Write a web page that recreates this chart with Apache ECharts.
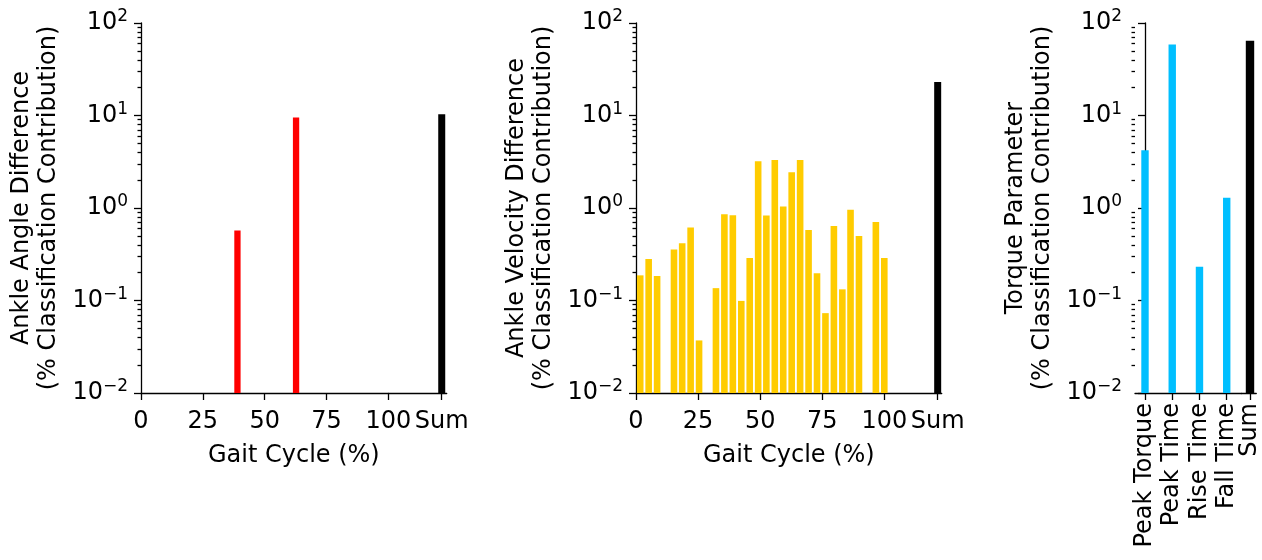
<!DOCTYPE html>
<html>
<head>
<meta charset="utf-8">
<script src="https://cdn.jsdelivr.net/npm/echarts@6/dist/echarts.min.js"></script>
<style>
html, body { margin: 0; padding: 0; background: #fff; }
#chart { width: 1262px; height: 560px; }
</style>
</head>
<body>
<div id="chart"></div>
<script>
// gait cycle bin centres (%)
var gaitBins = [1.7, 5.1, 8.5, 11.9, 15.3, 18.6, 22.0, 25.4, 28.8, 32.2,
                35.6, 39.0, 42.4, 45.8, 49.2, 52.5, 55.9, 59.3, 62.7, 66.1,
                69.5, 72.9, 76.3, 79.7, 83.1, 86.4, 89.8, 93.2, 96.6, 100.0];
var angleValues = [null, null, null, null, null, null, null, null, null, null,
                   null, 0.57, null, null, null, null, null, null, 9.5, null,
                   null, null, null, null, null, null, null, null, null, null];
var velocityValues = [0.187, 0.281, 0.184, null, 0.355, 0.415, 0.614, 0.037, null, 0.136,
                      0.855, 0.834, 0.099, 0.288, 3.2, 0.828, 3.3, 1.04, 2.43, 3.3,
                      0.578, 0.197, 0.073, 0.639, 0.132, 0.96, 0.498, null, 0.706, 0.288];
var torqueNames = ['Peak Torque', 'Peak Time', 'Rise Time', 'Fall Time'];
var torqueValues = [4.2, 58.7, 0.232, 1.29];
var sumValues = [10.3, 23.0, 64.4];
var gaitTicks = [0, 25, 50, 75, 100];
var decadeTicks = [0.01, 0.1, 1, 10, 100];
var minorTicks = [0.02, 0.03, 0.04, 0.05, 0.06, 0.07, 0.08, 0.09,
                  0.2, 0.3, 0.4, 0.5, 0.6, 0.7, 0.8, 0.9,
                  2, 3, 4, 5, 6, 7, 8, 9,
                  20, 30, 40, 50, 60, 70, 80, 90];

var FONT = 'DejaVu Sans';
var FS = 24;
var LINE = { color: '#000', width: 1.3 };

var myChart = echarts.init(document.getElementById('chart'));

function pairs(xs, ys) {
    var out = [];
    for (var i = 0; i < xs.length; i++) {
        if (ys[i] != null) out.push([xs[i], ys[i]]);
    }
    return out;
}

function expLabel(v) {
    var e = Math.round(Math.log10(v));
    return '{b|10}{s|' + (e < 0 ? '\u2212' + (-e) : e) + '}';
}

var panels = [
    { left: 141, width: 247.3, sumWidth: 58.4, sumPos: 0.915,
      title: 'Ankle Angle Difference\n(% Classification Contribution)',
      color: '#FF0000', barWidth: 6.3, data: pairs(gaitBins, angleValues), kind: 'gait' },
    { left: 636, width: 248.3, sumWidth: 57.4, sumPos: 0.93,
      title: 'Ankle Velocity Difference\n(% Classification Contribution)',
      color: '#FFCC00', barWidth: 6.6, data: pairs(gaitBins, velocityValues), kind: 'gait' },
    { left: 1135, width: 106.7, sumWidth: 20.3, sumPos: 0.57,
      title: 'Torque Parameter\n(% Classification Contribution)',
      color: '#00BFFF', barWidth: 7.4, data: pairs([0, 1, 2, 3], torqueValues), kind: 'torque' }
];

var grid = [], xAxis = [], yAxis = [], series = [], graphic = [];

panels.forEach(function (p, k) {
    var gMain = grid.length;
    grid.push({ left: p.left, top: 23, width: p.width, height: 370 });
    grid.push({ left: p.left + p.width, top: 23, width: p.sumWidth, height: 370 });

    // main x axis
    var xMain = {
        gridIndex: gMain, type: 'value',
        axisLine: { show: true, onZero: false, lineStyle: LINE },
        axisTick: { show: true, length: 7, lineStyle: LINE },
        axisLabel: { color: '#000', fontFamily: FONT, fontSize: FS, margin: 17 },
        splitLine: { show: false }
    };
    if (p.kind === 'gait') {
        xMain.min = 0; xMain.max = 100; xMain.interval = 25;
        xMain.axisTick.customValues = gaitTicks;
        xMain.axisLabel.customValues = gaitTicks;
    } else {
        xMain.min = -0.367; xMain.max = 3.55;
        xMain.axisTick.customValues = [0, 1, 2, 3];
        xMain.axisLabel.customValues = [0, 1, 2, 3];
        xMain.axisLabel.rotate = 90;
        xMain.axisLabel.margin = 10;
        xMain.axisLabel.formatter = function (v) { return torqueNames[Math.round(v)]; };
    }
    var xi = xAxis.length;
    xAxis.push(xMain);
    // sum x axis
    xAxis.push({
        gridIndex: gMain + 1, type: 'value', min: 0, max: 1,
        axisLine: { show: true, onZero: false, lineStyle: LINE },
        axisTick: { show: true, length: 7, lineStyle: LINE, customValues: [p.sumPos] },
        axisLabel: { color: '#000', fontFamily: FONT, fontSize: FS,
                     margin: p.kind === 'gait' ? 17 : 10,
                     rotate: p.kind === 'gait' ? 0 : 90,
                     customValues: [p.sumPos], formatter: function () { return 'Sum'; } },
        splitLine: { show: false }
    });

    var yi = yAxis.length;
    yAxis.push({
        gridIndex: gMain, type: 'log', logBase: 10, min: 0.01, max: 100, startValue: 0.01,
        position: 'left',
        axisLine: { show: true, lineStyle: LINE },
        axisTick: { show: true, length: 7, lineStyle: LINE, customValues: decadeTicks },
        axisLabel: {
            customValues: decadeTicks, margin: 13, formatter: expLabel, color: '#000',
            rich: {
                b: { fontFamily: FONT, fontSize: FS, color: '#000' },
                s: { fontFamily: FONT, fontSize: 17, color: '#000', padding: [0, 0, 12, 0] }
            }
        },
        splitLine: { show: false },
        name: p.title, nameLocation: 'middle', nameRotate: 90, nameGap: 79,
        nameTextStyle: { fontFamily: FONT, fontSize: FS, color: '#000', lineHeight: 27 }
    });
    // minor ticks
    yAxis.push({
        gridIndex: gMain, type: 'log', logBase: 10, min: 0.01, max: 100, position: 'left',
        axisLine: { show: false },
        axisTick: { show: true, length: 3.5, lineStyle: LINE, customValues: minorTicks },
        axisLabel: { show: false },
        splitLine: { show: false }
    });
    // sum y axis
    yAxis.push({
        gridIndex: gMain + 1, type: 'log', logBase: 10, min: 0.01, max: 100, startValue: 0.01,
        show: false, splitLine: { show: false }
    });

    series.push({
        type: 'bar', xAxisIndex: xi, yAxisIndex: yi, data: p.data,
        barWidth: p.barWidth, itemStyle: { color: p.color }, animation: false
    });
    series.push({
        type: 'bar', xAxisIndex: xi + 1, yAxisIndex: yi + 2, data: [[p.sumPos, sumValues[k]]],
        barWidth: p.kind === 'gait' ? 7 : 8.4, itemStyle: { color: '#000' }, animation: false
    });

    if (p.kind === 'gait') {
        graphic.push({
            type: 'text', x: p.left + (p.width + p.sumWidth) / 2, y: 456,
            style: { text: 'Gait Cycle (%)', font: FS + 'px "' + FONT + '"', fill: '#000',
                     textAlign: 'center', textVerticalAlign: 'middle',
                     align: 'center', verticalAlign: 'middle' }
        });
    }
});

var option = {
    backgroundColor: '#fff',
    animation: false,
    grid: grid,
    xAxis: xAxis,
    yAxis: yAxis,
    series: series,
    graphic: graphic
};
myChart.setOption(option);
</script>
</body>
</html>
